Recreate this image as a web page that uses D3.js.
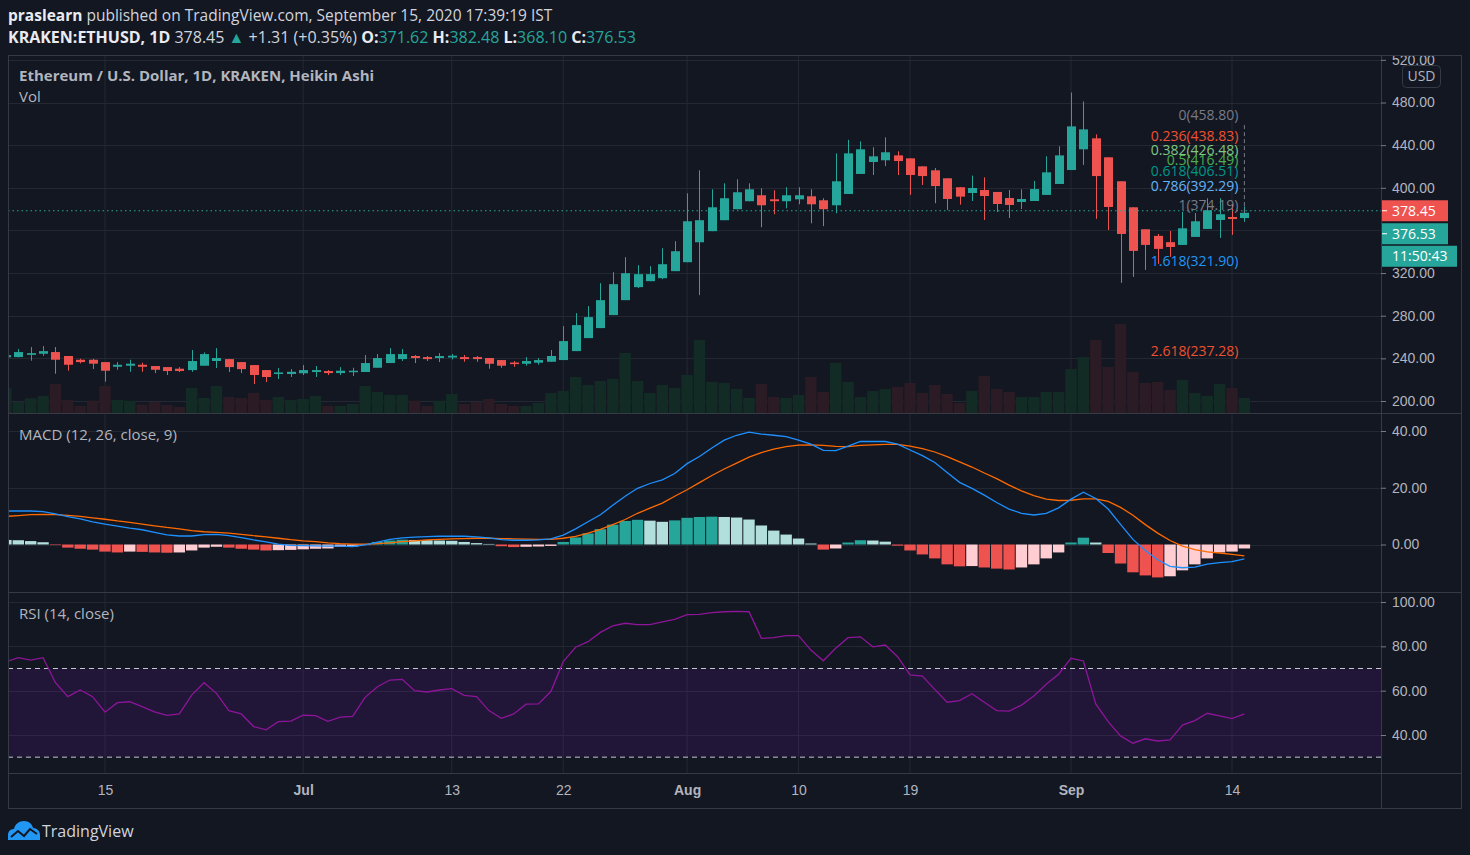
<!DOCTYPE html>
<html>
<head>
<meta charset="utf-8">
<script src="https://cdn.jsdelivr.net/npm/d3@7"></script>
<style>
html, body { margin: 0; background: #131722; }
svg { display: block; font-family: "Open Sans", Roboto, sans-serif; }
</style>
</head>
<body>
<svg id="chart" width="1470" height="855"></svg>
<script>
// daily Heikin Ashi candles, Jun 7 .. Sep 15 2020
var dates = d3.timeDay.range(new Date(2020, 5, 7), new Date(2020, 8, 16));

var opens = [
    241, 241.2, 243.3, 244.3, 245.9, 242.2, 238.7, 238.7, 236.5, 232.1,
    233.1, 234.0, 232.8, 231.8, 230.3, 229.0, 233.1, 237.5, 239.3, 236.5,
    233.7, 229.0, 225.3, 225.3, 226.0, 227.2, 228.1, 226.2, 227.5, 227.2,
    231.2, 235.6, 239.3, 242.2, 241.2, 240.3, 240.8, 241.2, 241.2, 240.3,
    238.4, 236.1, 234.9, 235.9, 236.8, 238.4, 246.8, 259.0, 268.4, 280.6,
    294.6, 306.8, 312.4, 315.2, 321.8, 330.2, 348.9, 359.3, 369.6, 379.9,
    387.4, 393.0, 389.2, 387.4, 389.2, 392.0, 388.3, 383.6, 394.2, 413.0,
    424.2, 425.8, 430.4, 427.6, 420.1, 416.4, 408.9, 400.5, 395.1, 397.9,
    396.1, 390.4, 386.7, 387.6, 393.3, 403.6, 416.7, 436.1, 446.4, 428.6,
    406.1, 381.7, 361.1, 354.9, 349.0, 346.4, 353.9, 361.4, 369.8, 372.6,
    371.62
];
var highs = [
    244, 248.7, 250.6, 251.5, 250.6, 242.2, 239.6, 239.5, 236.5, 236.5,
    238.7, 235.9, 232.8, 231.8, 231.8, 247.8, 245.6, 249.6, 239.3, 236.5,
    233.7, 229.0, 230.9, 229.9, 233.7, 232.8, 229.0, 231.8, 231.2, 243.1,
    244.0, 249.6, 248.7, 243.1, 242.2, 244.9, 244.0, 243.1, 242.2, 240.3,
    238.4, 237.5, 241.2, 240.3, 247.8, 270.3, 282.4, 289.0, 310.5, 320.8,
    334.9, 327.4, 326.5, 343.3, 349.9, 394.8, 416.4, 398.6, 404.2, 408.0,
    404.2, 399.5, 397.7, 400.5, 400.5, 398.6, 390.2, 432.3, 445.0, 443.5,
    438.0, 447.3, 434.2, 427.6, 420.1, 418.6, 408.9, 400.5, 411.4, 409.8,
    396.1, 397.9, 398.6, 406.4, 429.5, 438.9, 489.4, 481.0, 450.1, 428.6,
    406.1, 381.7, 361.1, 356.7, 359.5, 377.3, 376.3, 390.2, 390.2, 384.8,
    382.48
];
var lows = [
    240, 241.0, 237.8, 242.4, 225.6, 228.4, 235.3, 230.0, 218.1, 229.3,
    227.4, 227.4, 226.2, 224.4, 227.1, 227.4, 233.1, 230.9, 227.2, 226.2,
    215.9, 217.8, 220.6, 222.5, 224.4, 222.5, 224.4, 224.4, 223.4, 227.2,
    231.2, 235.6, 237.5, 235.6, 237.5, 236.5, 239.0, 236.8, 236.8, 230.3,
    231.2, 232.1, 233.1, 234.0, 236.8, 238.4, 246.8, 259.0, 268.4, 280.6,
    294.6, 305.9, 312.4, 314.3, 321.8, 330.2, 299.3, 359.3, 369.6, 379.9,
    387.4, 363.0, 375.2, 380.8, 384.5, 366.7, 364.0, 376.1, 394.2, 413.0,
    412.0, 420.4, 412.0, 393.3, 402.6, 385.5, 379.2, 384.2, 387.6, 369.8,
    377.3, 371.7, 380.1, 387.6, 393.3, 403.6, 416.7, 421.4, 370.8, 360.4,
    310.8, 316.4, 323.0, 328.6, 335.2, 346.4, 353.9, 361.4, 353.0, 355.8,
    368.10
];
var closes = [
    243, 245.9, 244.9, 246.8, 238.7, 234.0, 236.5, 235.0, 228.4, 234.0,
    235.0, 232.1, 229.3, 228.1, 228.1, 237.5, 244.0, 240.3, 231.8, 229.9,
    224.4, 222.5, 226.8, 227.4, 229.0, 229.0, 226.2, 228.4, 228.4, 235.6,
    240.3, 244.0, 244.0, 240.3, 239.3, 242.2, 242.5, 239.3, 239.3, 234.9,
    233.1, 234.6, 237.5, 238.4, 242.2, 256.2, 271.2, 278.7, 294.6, 309.6,
    319.9, 319.0, 319.0, 328.3, 340.5, 368.6, 369.6, 381.7, 390.2, 395.8,
    398.6, 383.6, 387.4, 393.0, 393.0, 384.5, 379.9, 406.1, 432.3, 436.1,
    429.5, 433.3, 425.1, 412.0, 411.0, 401.6, 389.5, 391.7, 399.8, 392.3,
    384.8, 383.9, 389.5, 398.8, 414.5, 430.4, 457.6, 454.8, 411.0, 382.0,
    356.7, 340.8, 346.4, 342.7, 344.5, 362.0, 368.6, 378.9, 375.2, 370.7,
    376.53
];
// volume in thousand ETH, and whether the real day closed up
var volumes = [
    25, 11, 14.7, 17, 29, 13, 7, 12.3, 27, 13,
    12.3, 8.3, 11, 8, 6, 25, 15, 27, 16, 15,
    20, 13, 16, 13, 14, 17, 7, 7, 9, 27,
    21, 18, 18, 12.3, 7, 12.3, 19, 9, 11, 14,
    9, 7, 7, 10, 20, 22, 36, 28, 32, 34,
    60, 32, 20, 28, 25, 38, 73, 31, 30, 24,
    15, 29, 16, 15, 18, 36, 21, 50, 31, 16,
    22, 24, 26, 30, 20, 28, 19, 10, 22, 37,
    24, 21, 16, 16, 21, 21, 44, 56, 73, 46,
    89, 41, 30, 31, 23, 33, 20, 17, 29, 25,
    15
];
var volumeUp = [
    1, 1, 1, 1, 0, 0, 0, 0, 0, 1,
    1, 0, 0, 0, 0, 1, 1, 1, 0, 0,
    0, 0, 1, 1, 1, 1, 0, 1, 1, 1,
    1, 1, 1, 0, 0, 1, 1, 0, 0, 0,
    0, 0, 1, 1, 1, 1, 1, 1, 1, 1,
    1, 1, 1, 1, 1, 1, 1, 1, 1, 1,
    1, 0, 0, 1, 1, 0, 0, 1, 1, 1,
    1, 1, 0, 0, 0, 0, 0, 0, 1, 0,
    0, 0, 1, 1, 1, 1, 1, 1, 0, 0,
    0, 0, 0, 0, 0, 1, 1, 1, 1, 0,
    1
];
var macdLine = [
    11.8, 11.8, 11.8, 11.6, 10.8, 9.8, 9.0, 8.0, 7.2, 6.5,
    5.8, 5.2, 4.3, 3.4, 3.0, 3.0, 3.5, 3.6, 3.1, 2.4,
    1.6, 0.9, 0.1, -0.3, -0.4, -0.5, -0.6, -0.6, -0.7, -0.1,
    0.8, 1.8, 2.3, 2.6, 2.8, 2.9, 2.9, 2.9, 2.7, 2.3,
    1.7, 1.5, 1.5, 1.6, 2.0, 3.3, 5.5, 8.0, 10.5, 13.8,
    17.0, 19.8, 21.5, 22.8, 25.0, 28.5, 31.0, 34.0, 36.8, 38.5,
    39.6, 38.9, 38.5, 38.0, 36.8, 35.4, 33.2, 33.1, 34.7, 36.3,
    36.3, 36.3, 35.4, 33.3, 31.3, 28.9, 25.4, 21.9, 19.8, 17.4,
    14.8, 12.5, 11.0, 10.4, 11.0, 12.9, 16.0, 18.4, 16.2, 12.5,
    7.1, 1.8, -2.1, -5.4, -7.7, -8.2, -8.0, -6.9, -6.4, -6.0,
    -5.1
];
var signalLine = [
    9.9, 10.2, 10.5, 10.6, 10.5, 10.3, 9.9, 9.4, 8.9, 8.3,
    7.8, 7.2, 6.6, 6.0, 5.5, 4.9, 4.5, 4.3, 4.0, 3.6,
    3.1, 2.7, 2.2, 1.7, 1.3, 1.0, 0.6, 0.3, 0.1, 0.1,
    0.3, 0.6, 1.0, 1.3, 1.6, 1.8, 2.0, 2.1, 2.2, 2.2,
    2.1, 2.0, 1.9, 1.8, 1.8, 2.2, 2.9, 4.0, 5.3, 7.0,
    8.8, 11.0, 12.8, 14.6, 17.0, 19.3, 21.8, 24.3, 26.6, 28.7,
    30.8, 32.4, 33.6, 34.5, 35.0, 35.1, 34.9, 34.6, 34.5, 34.9,
    35.1, 35.3, 35.3, 34.7, 33.8, 32.6, 31.0, 29.1, 27.3, 25.2,
    23.2, 20.9, 18.9, 17.2, 16.0, 15.5, 15.6, 16.1, 16.1, 15.2,
    13.1, 10.3, 7.0, 4.0, 1.4, -0.6, -1.8, -2.6, -3.0, -3.5,
    -4.0
];
var histogram = [
    1.6, 1.5, 1.2, 0.8, -0.2, -1.1, -1.5, -1.8, -2.5, -2.8,
    -2.5, -2.6, -2.8, -2.9, -2.8, -2.1, -1.1, -0.8, -1.1, -1.5,
    -1.8, -2.1, -2.0, -1.9, -1.7, -1.5, -1.4, -0.8, -0.7, -0.2,
    0.9, 1.4, 1.7, 1.6, 1.5, 1.4, 1.3, 0.9, 0.5, 0.2,
    -0.6, -0.9, -0.8, -0.7, -0.5, 0.9, 2.5, 3.9, 5.4, 7.0,
    8.3, 8.7, 8.4, 8.0, 8.5, 9.4, 9.7, 9.8, 9.7, 9.5,
    8.8, 6.7, 4.9, 3.5, 2.1, 0.35, -1.8, -1.4, 0.7, 1.5,
    1.4, 1.0, -0.4, -2.1, -3.5, -4.9, -7.0, -7.7, -7.6, -8.1,
    -8.5, -8.8, -8.1, -7.0, -4.9, -2.8, 0.7, 2.4, 0.7, -3.0,
    -6.7, -9.8, -10.9, -11.6, -11.2, -9.1, -7.0, -4.9, -2.8, -2.5,
    -1.4
];
var rsi = [
    73.0, 74.9, 73.8, 74.9, 63.6, 57.3, 60.3, 57.3, 50.3, 54.6,
    55.0, 52.8, 50.4, 48.9, 49.5, 58.0, 63.6, 58.8, 51.0, 49.5,
    43.8, 42.3, 46.0, 46.3, 48.9, 48.7, 46.2, 48.1, 48.4, 57.0,
    61.8, 64.8, 65.1, 60.0, 59.4, 60.3, 60.9, 57.9, 57.3, 51.0,
    47.5, 49.5, 53.9, 54.0, 59.6, 73.1, 79.6, 82.1, 86.3, 89.2,
    90.4, 89.8, 89.8, 91.0, 92.2, 94.3, 94.4, 95.2, 95.6, 95.8,
    95.6, 83.6, 83.9, 84.8, 84.8, 78.3, 73.5, 79.1, 83.9, 84.3,
    79.8, 80.6, 75.3, 67.1, 66.6, 60.6, 54.8, 55.5, 58.6, 54.8,
    51.0, 50.8, 53.5, 57.6, 62.9, 67.4, 74.6, 73.4, 54.0, 46.0,
    39.6, 36.3, 38.3, 37.3, 37.8, 44.5, 46.5, 49.8, 48.6, 47.4,
    49.5
];

var fibRatios = [0, 0.236, 0.382, 0.5, 0.618, 0.786, 1, 1.618, 2.618];
var fibPrices = [458.80, 438.83, 426.48, 416.49, 406.51, 392.29, 374.19, 321.90, 237.28];
var fibColors = ["#787b86", "#f0502f", "#81c784", "#4caf50", "#009688", "#64b5f6", "#787b86", "#2196f3", "#f0502f"];

var priceGrid = [200, 240, 280, 320, 360, 400, 440, 480, 520];
var priceTicks = [200, 240, 280, 320, 400, 440, 480, 520];
var macdTicks = [0, 20, 40];
var rsiTicks = [40, 60, 80, 100];
var xTicks = [new Date(2020, 5, 15), new Date(2020, 6, 1), new Date(2020, 6, 13), new Date(2020, 6, 22),
    new Date(2020, 7, 1), new Date(2020, 7, 10), new Date(2020, 7, 19), new Date(2020, 8, 1), new Date(2020, 8, 14)];

var lastPrice = 378.45, lastClose = 376.53, countdown = "11:50:43";

var UP = "#26a69a", DOWN = "#ef5350";
var gridColor = "#242833", lineColor = "#363a45", textColor = "#b2b5be";

var svg = d3.select("#chart");
var plotL = 8, plotR = 1381, frameR = 1461;
var paneTop = 55, priceBottom = 413, macdBottom = 592, rsiBottom = 773, frameBottom = 808;

var x = d3.scaleTime().domain([new Date(2020, 5, 15), new Date(2020, 8, 14)]).range([105, 1232]);
var step = x(new Date(2020, 5, 16)) - x(new Date(2020, 5, 15));
var priceY = d3.scaleLinear().domain([200, 480]).range([401, 102.5]);
var volY = d3.scaleLinear().domain([0, 100]).range([priceBottom, priceBottom - 100]);
var macdY = d3.scaleLinear().domain([0, 40]).range([544.5, 431]);
var rsiY = d3.scaleLinear().domain([40, 100]).range([735, 602]);

var bars = dates.map(function (d, i) {
    return { date: d, o: opens[i], h: highs[i], l: lows[i], c: closes[i], v: volumes[i], up: volumeUp[i],
        macd: macdLine[i], signal: signalLine[i], hist: histogram[i], rsi: rsi[i] };
});

svg.append("rect").attr("width", 1470).attr("height", 855).attr("fill", "#131722");

// clip paths for the three panes
var defs = svg.append("defs");
[["clip-price", paneTop, priceBottom], ["clip-macd", priceBottom, macdBottom], ["clip-rsi", macdBottom, rsiBottom]]
.forEach(function (c) {
    defs.append("clipPath").attr("id", c[0]).append("rect")
    .attr("x", plotL).attr("y", c[1]).attr("width", plotR - plotL).attr("height", c[2] - c[1]);
});

// header
var head1 = svg.append("text").attr("x", 8).attr("y", 21).attr("fill", "#d1d4dc").style("font-size", "15.5px");
head1.append("tspan").attr("font-weight", "bold").attr("fill", "#e9ebf0").text("praslearn");
head1.append("tspan").text(" published on TradingView.com, September 15, 2020 17:39:19 IST");

var head2 = svg.append("text").attr("x", 8).attr("y", 43).attr("fill", "#d1d4dc").style("font-size", "16px");
head2.append("tspan").attr("font-weight", "bold").attr("fill", "#e9ebf0").text("KRAKEN:ETHUSD, 1D");
head2.append("tspan").text(" " + lastPrice.toFixed(2) + " ");
head2.append("tspan").attr("fill", UP).text("▲");
head2.append("tspan").text(" +1.31 (+0.35%) ");
[["O:", opens[100]], ["H:", highs[100]], ["L:", lows[100]], ["C:", closes[100]]].forEach(function (p, i) {
    head2.append("tspan").attr("font-weight", "bold").attr("fill", "#e9ebf0").text((i ? " " : "") + p[0]);
    head2.append("tspan").attr("fill", UP).text(p[1].toFixed(2));
});

// grid
var grid = svg.append("g");
grid.selectAll("line.vgrid").data(xTicks).enter().append("line")
    .attr("x1", function (d) { return x(d); }).attr("x2", function (d) { return x(d); })
    .attr("y1", paneTop).attr("y2", rsiBottom).attr("stroke", gridColor);
function hgrid(ticks, scale, y0, y1) {
    grid.append("g").selectAll("line").data(ticks.filter(function (t) { var y = scale(t); return y > y0 && y < y1; }))
    .enter().append("line")
    .attr("x1", plotL).attr("x2", plotR)
    .attr("y1", function (d) { return Math.round(scale(d)) + 0.5; })
    .attr("y2", function (d) { return Math.round(scale(d)) + 0.5; })
    .attr("stroke", gridColor);
}
hgrid(priceGrid, priceY, paneTop, priceBottom);
hgrid(macdTicks, macdY, priceBottom, macdBottom);
hgrid(rsiTicks, rsiY, macdBottom, rsiBottom);

// price pane
var pricePane = svg.append("g").attr("clip-path", "url(#clip-price)");

pricePane.append("g").selectAll("rect").data(bars).enter().append("rect")
    .attr("x", function (d) { return x(d.date) - step / 2 + 0.5; })
    .attr("width", step - 1)
    .attr("y", function (d) { return volY(d.v); })
    .attr("height", function (d) { return volY(0) - volY(d.v); })
    .attr("fill", function (d) { return d.up ? "#132b25" : "#2b1b24"; });

pricePane.append("g").selectAll("line").data(bars).enter().append("line")
    .attr("x1", function (d) { return Math.round(x(d.date)) + 0.5; })
    .attr("x2", function (d) { return Math.round(x(d.date)) + 0.5; })
    .attr("y1", function (d) { return priceY(d.h); })
    .attr("y2", function (d) { return priceY(d.l); })
    .attr("stroke", function (d) { return d.c >= d.o ? UP : DOWN; });

pricePane.append("g").selectAll("rect").data(bars).enter().append("rect")
    .attr("x", function (d) { return Math.round(x(d.date)) + 0.5 - 4.5; })
    .attr("width", 9)
    .attr("y", function (d) { return priceY(Math.max(d.o, d.c)); })
    .attr("height", function (d) { return Math.max(1.5, Math.abs(priceY(d.o) - priceY(d.c))); })
    .attr("fill", function (d) { return d.c >= d.o ? UP : DOWN; });

pricePane.append("line")
    .attr("x1", plotL).attr("x2", plotR)
    .attr("y1", priceY(lastPrice)).attr("y2", priceY(lastPrice))
    .attr("stroke", UP).attr("stroke-dasharray", "1.5,3");

// fibonacci retracement labels
var fibX = x(dates[dates.length - 1]);
pricePane.append("line")
    .attr("x1", fibX).attr("x2", fibX)
    .attr("y1", priceY(fibPrices[0])).attr("y2", priceY(fibPrices[6]))
    .attr("stroke", "#787b86").attr("stroke-dasharray", "4,3");
pricePane.append("g").selectAll("text").data(fibRatios).enter().append("text")
    .attr("x", fibX - 6)
    .attr("y", function (d, i) { return priceY(fibPrices[i]) - 5; })
    .attr("text-anchor", "end")
    .attr("fill", function (d, i) { return fibColors[i]; })
    .style("font-size", "14px")
    .text(function (d, i) { return d + "(" + fibPrices[i].toFixed(2) + ")"; });

// MACD pane
var macdPane = svg.append("g").attr("clip-path", "url(#clip-macd)");
macdPane.append("g").selectAll("rect").data(bars).enter().append("rect")
    .attr("x", function (d) { return x(d.date) - step / 2 + 0.5; })
    .attr("width", step - 1)
    .attr("y", function (d) { return Math.min(macdY(d.hist), macdY(0)); })
    .attr("height", function (d) { return Math.abs(macdY(d.hist) - macdY(0)); })
    .attr("fill", function (d, i) {
        var prev = i > 0 ? bars[i - 1].hist : d.hist + 0.1;
        if (d.hist >= 0) return d.hist > prev ? "#26a69a" : "#b2dfdb";
        return d.hist < prev ? "#ef5350" : "#ffcdd2";
    });
macdPane.append("path").datum(bars)
    .attr("fill", "none").attr("stroke", "#ff6a00").attr("stroke-width", 1.3)
    .attr("d", d3.line().x(function (d) { return x(d.date); }).y(function (d) { return macdY(d.signal); }));
macdPane.append("path").datum(bars)
    .attr("fill", "none").attr("stroke", "#1e90ff").attr("stroke-width", 1.3)
    .attr("d", d3.line().x(function (d) { return x(d.date); }).y(function (d) { return macdY(d.macd); }));

// RSI pane
var rsiPane = svg.append("g").attr("clip-path", "url(#clip-rsi)");
rsiPane.append("rect")
    .attr("x", plotL).attr("width", plotR - plotL)
    .attr("y", rsiY(70)).attr("height", rsiY(30) - rsiY(70))
    .attr("fill", "#9915ff").attr("fill-opacity", 0.1);
[70, 30].forEach(function (b) {
    rsiPane.append("line")
    .attr("x1", plotL).attr("x2", plotR)
    .attr("y1", rsiY(b)).attr("y2", rsiY(b))
    .attr("stroke", "#c3c6ce").attr("stroke-dasharray", "5,4");
});
rsiPane.append("path").datum(bars)
    .attr("fill", "none").attr("stroke", "#8e1599").attr("stroke-width", 1.3)
    .attr("d", d3.line().x(function (d) { return x(d.date); }).y(function (d) { return rsiY(d.rsi); }));

// frame and pane separators
var frame = svg.append("g").attr("stroke", lineColor).attr("fill", "none");
frame.append("rect").attr("x", plotL + 0.5).attr("y", paneTop + 0.5)
    .attr("width", frameR - plotL).attr("height", frameBottom - paneTop);
frame.append("line").attr("x1", plotR + 0.5).attr("x2", plotR + 0.5).attr("y1", paneTop).attr("y2", frameBottom);
[priceBottom, macdBottom, rsiBottom].forEach(function (y) {
    frame.append("line").attr("x1", plotL).attr("x2", frameR).attr("y1", y + 0.5).attr("y2", y + 0.5);
});

// axes
function styleAxis(g) {
    g.select(".domain").remove();
    g.selectAll("text").attr("fill", textColor).style("font-size", "14px").attr("font-family", null);
    g.selectAll(".tick line").attr("stroke", "#787b86");
}
var axisClip = defs.append("clipPath").attr("id", "clip-axis");
axisClip.append("rect").attr("x", plotR).attr("y", paneTop + 1).attr("width", frameR - plotR).attr("height", rsiBottom - paneTop);

var yAxes = svg.append("g").attr("clip-path", "url(#clip-axis)");
yAxes.append("g").attr("transform", "translate(" + plotR + ",0)")
    .call(d3.axisRight(priceY).tickValues(priceTicks).tickFormat(d3.format(".2f")).tickSize(5).tickPadding(6))
    .call(styleAxis);
yAxes.append("g").attr("transform", "translate(" + plotR + ",0)")
    .call(d3.axisRight(macdY).tickValues(macdTicks).tickFormat(d3.format(".2f")).tickSize(5).tickPadding(6))
    .call(styleAxis);
yAxes.append("g").attr("transform", "translate(" + plotR + ",0)")
    .call(d3.axisRight(rsiY).tickValues(rsiTicks).tickFormat(d3.format(".2f")).tickSize(5).tickPadding(6))
    .call(styleAxis);

svg.append("g").attr("transform", "translate(0," + rsiBottom + ")")
    .call(d3.axisBottom(x).tickValues(xTicks).tickSize(0).tickPadding(12)
        .tickFormat(function (d) { return d.getDate() === 1 ? d3.timeFormat("%b")(d) : d3.timeFormat("%-d")(d); }))
    .call(styleAxis)
    .selectAll("text").attr("font-weight", function (d) { return d.getDate() === 1 ? "bold" : null; });

// USD badge
svg.append("rect").attr("x", 1402.5).attr("y", 65.5).attr("width", 38).attr("height", 22).attr("rx", 4)
    .attr("fill", "#131722").attr("stroke", lineColor);
svg.append("text").attr("x", 1421.5).attr("y", 81).attr("text-anchor", "middle")
    .attr("fill", textColor).style("font-size", "14px").text("USD");

// last price badges
var badges = [
    { y: priceY(lastPrice) - 10.5, w: 66, fill: DOWN, text: lastPrice.toFixed(2), tick: priceY(lastPrice) },
    { y: priceY(lastPrice) + 12.5, w: 66, fill: UP, text: lastClose.toFixed(2), tick: priceY(lastPrice) + 23 },
    { y: priceY(lastPrice) + 35, w: 75, fill: UP, text: countdown, tick: null }
];
badges.forEach(function (b) {
    svg.append("rect").attr("x", plotR + 1).attr("y", b.y).attr("width", b.w).attr("height", 21).attr("fill", b.fill);
    svg.append("text").attr("x", plotR + 11).attr("y", b.y + 15.5).attr("fill", "#ffffff")
        .style("font-size", "14px").text(b.text);
    if (b.tick !== null) {
        svg.append("line").attr("x1", plotR + 1).attr("x2", plotR + 6).attr("y1", b.tick).attr("y2", b.tick)
            .attr("stroke", "#ffffff");
    }
});

// pane titles
svg.append("text").attr("x", 19).attr("y", 81).attr("fill", textColor).attr("font-weight", "bold")
    .style("font-size", "15px").text("Ethereum / U.S. Dollar, 1D, KRAKEN, Heikin Ashi");
svg.append("text").attr("x", 19).attr("y", 102).attr("fill", textColor).style("font-size", "15px").text("Vol");
svg.append("text").attr("x", 19).attr("y", 440).attr("fill", textColor).style("font-size", "15px").text("MACD (12, 26, close, 9)");
svg.append("text").attr("x", 19).attr("y", 619).attr("fill", textColor).style("font-size", "15px").text("RSI (14, close)");

// TradingView logo
var logo = svg.append("g").attr("transform", "translate(8,820)");
logo.append("path")
    .attr("d", "M0,20 L0,15 C0,11 3,9 6,9 C7,4 11,1 16,1 C21,1 24,4 25,8 C29,8 32,11 32,15 L32,20 Z")
    .attr("fill", "#2196f3");
logo.append("path").attr("d", "M3,17 L10,11 L16,16 L22,9 L29,14")
    .attr("fill", "none").attr("stroke", "#131722").attr("stroke-width", 2);
svg.append("text").attr("x", 42).attr("y", 837).attr("fill", "#d1d4dc").style("font-size", "16px").text("TradingView");
</script>
</body>
</html>
